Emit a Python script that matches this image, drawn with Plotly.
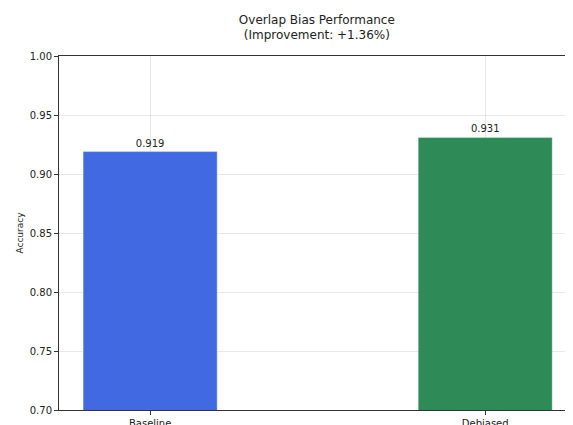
import plotly.graph_objects as go

categories = ["Baseline", "Debiased"]
accuracy = [0.919, 0.931]
labels = ["0.919", "0.931"]
colors = ["#4169E1", "#2E8B57"]
title_lines = ["Overlap Bias Performance", "(Improvement: +1.36%)"]
y_ticks = [0.70, 0.75, 0.80, 0.85, 0.90, 0.95, 1.00]

fig = go.Figure()
fig.add_trace(go.Bar(
    x=[0, 1], y=accuracy, width=0.4,
    marker=dict(color=colors, line=dict(color="rgba(255,255,255,0.35)", width=1)),
    text=labels, textposition="outside", cliponaxis=False,
    textfont=dict(size=10, color="#222"),
))

font = "DejaVu Sans, Arial, sans-serif"
fig.update_layout(
    width=573, height=425,
    margin=dict(l=51, r=6, t=48, b=23, autoexpand=False),
    paper_bgcolor="white", plot_bgcolor="white",
    font=dict(family=font, size=10, color="#222"),
    showlegend=False,
    title=dict(text="<br>".join(title_lines), x=0.539, xanchor="center",
               y=0.963, yanchor="top", font=dict(size=12, color="#222")),
    xaxis=dict(range=[-0.272, 1.268], tickvals=[0, 1], ticktext=categories,
               showgrid=True, gridcolor="rgba(0,0,0,0.09)", gridwidth=1,
               showline=True, linecolor="#333", linewidth=1, mirror=True,
               ticks="outside", ticklen=4, tickcolor="#333", zeroline=False,
               tickfont=dict(size=10), automargin=False),
    yaxis=dict(range=[0.70, 1.00], tickvals=y_ticks, tickformat=".2f",
               showgrid=True, gridcolor="rgba(0,0,0,0.09)", gridwidth=1,
               showline=True, linecolor="#333", linewidth=1,
               ticks="outside", ticklen=4, tickcolor="#333", zeroline=False,
               title=dict(text="Accuracy", font=dict(size=9), standoff=4),
               tickfont=dict(size=10), automargin=False),
)

fig.write_html("out.html")
